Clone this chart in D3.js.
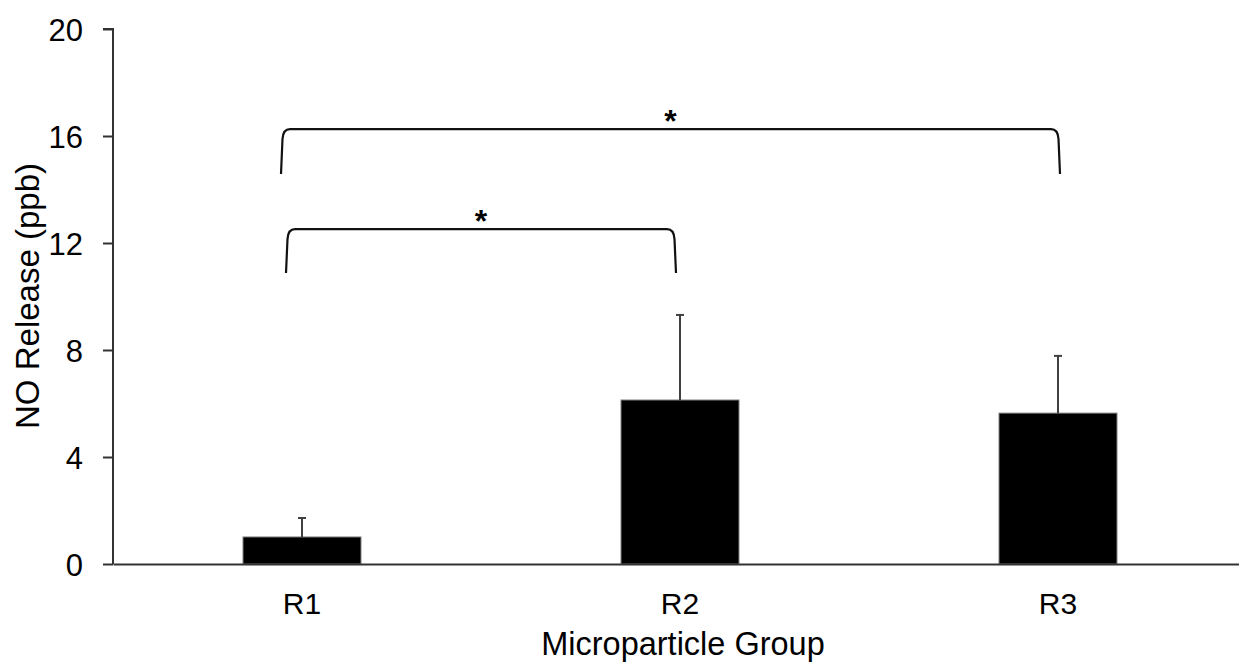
<!DOCTYPE html>
<html lang="en">
<head>
	<meta charset="UTF-8">
	<title>NO Release</title>
	<style>
		body { margin: 0; background: #fff; }
		text { font-family: "Liberation Sans", Arial, sans-serif; fill: #000; }
	</style>
</head>
<body>
	<script src="https://d3js.org/d3.v7.min.js"></script>
	<script type="text/javascript">
		var width = 1239;
		var height = 664;

		// data
		var groups = ["R1", "R2", "R3"];
		var means = [1.01, 6.13, 5.64];
		var errors = [0.71, 3.18, 2.14];
		var yTicks = [0, 4, 8, 12, 16, 20];
		var sigPairs = [["R1", "R3"], ["R1", "R2"]];
		var sigLevels = [16.26, 12.52];
		var sigLabels = ["*", "*"];

		var svg = d3.select("body").append("svg").attr("width", width).attr("height", height);
		var padding = {left: 113, right: -8, top: 29, bottom: 100};

		var XScale = d3.scaleBand().domain(groups).range([padding.left, width - padding.right]).padding(0);
		var YScale = d3.scaleLinear().domain([0, 20]).range([height - padding.bottom, padding.top]);

		var barW = XScale.bandwidth() * 0.312;
		var cx = function(g){ return XScale(g) + XScale.bandwidth() / 2; };

		// bars
		svg.selectAll("rect.bar")
			.data(means)
			.enter()
			.append("rect")
			.attr("class", "bar")
			.attr("x", function(d, i){ return cx(groups[i]) - barW / 2; })
			.attr("y", function(d){ return YScale(d); })
			.attr("width", barW)
			.attr("height", function(d){ return YScale(0) - YScale(d); })
			.attr("fill", "#000")
			.attr("stroke", "#777")
			.attr("stroke-width", 1);

		// error bars (upper only)
		var eb = svg.selectAll("g.err").data(means).enter().append("g").attr("class", "err")
			.attr("stroke", "#404040").attr("stroke-width", 2);
		eb.append("line")
			.attr("x1", function(d, i){ return cx(groups[i]); })
			.attr("x2", function(d, i){ return cx(groups[i]); })
			.attr("y1", function(d){ return YScale(d); })
			.attr("y2", function(d, i){ return YScale(d + errors[i]); });
		eb.append("line")
			.attr("x1", function(d, i){ return cx(groups[i]) - 4; })
			.attr("x2", function(d, i){ return cx(groups[i]) + 4; })
			.attr("y1", function(d, i){ return YScale(d + errors[i]); })
			.attr("y2", function(d, i){ return YScale(d + errors[i]); });

		// axes
		var YAxis = d3.axisLeft(YScale).tickValues(yTicks).tickSize(10).tickPadding(20);
		var gy = svg.append("g")
			.attr("transform", "translate(" + padding.left + ",0)")
			.call(YAxis);
		gy.select(".domain").attr("stroke", "#333").attr("stroke-width", 2).attr("d", "M-10," + YScale(20) + "H0V" + YScale(0));
		gy.selectAll(".tick line").attr("stroke", "#333").attr("stroke-width", 2);
		gy.selectAll(".tick text").style("font-size", "31px").attr("fill", "#000").attr("dy", "0.36em");

		var XAxis = d3.axisBottom(XScale).tickSize(0).tickPadding(0);
		var gx = svg.append("g")
			.attr("transform", "translate(0," + YScale(0) + ")")
			.call(XAxis);
		gx.select(".domain").attr("stroke", "#333").attr("stroke-width", 2);
		gx.selectAll(".tick text").style("font-size", "30px").attr("fill", "#000")
			.attr("dy", null).attr("y", 50);

		// axis titles
		svg.append("text")
			.attr("x", 683)
			.attr("y", 655)
			.attr("text-anchor", "middle")
			.style("font-size", "32.5px")
			.text("Microparticle Group");

		svg.append("text")
			.attr("transform", "translate(39,296) rotate(-90)")
			.attr("text-anchor", "middle")
			.style("font-size", "33px")
			.text("NO Release (ppb)");

		// significance brackets
		var ends = [[-21, 2], [-16, -4]];
		var drop = [1.68, 1.64];
		sigPairs.forEach(function(p, i){
			var x0 = cx(p[0]) + ends[i][0];
			var x1 = cx(p[1]) + ends[i][1];
			var yt = YScale(sigLevels[i]);
			var yb = YScale(sigLevels[i] - drop[i]);
			var path = d3.path();
			path.moveTo(x0, yb);
			path.lineTo(x0 + 1.5, yt + 10);
			path.quadraticCurveTo(x0 + 2, yt, x0 + 9, yt);
			path.lineTo(x1 - 9, yt);
			path.quadraticCurveTo(x1 - 2, yt, x1 - 1.5, yt + 10);
			path.lineTo(x1, yb);
			svg.append("path")
				.attr("d", path.toString())
				.attr("fill", "none")
				.attr("stroke", "#111")
				.attr("stroke-width", 2.2);
			svg.append("text")
				.attr("x", (x0 + x1) / 2)
				.attr("y", yt + 3)
				.attr("text-anchor", "middle")
				.style("font-size", "32px")
				.style("font-weight", "bold")
				.text(sigLabels[i]);
		});
	</script>
</body>
</html>
